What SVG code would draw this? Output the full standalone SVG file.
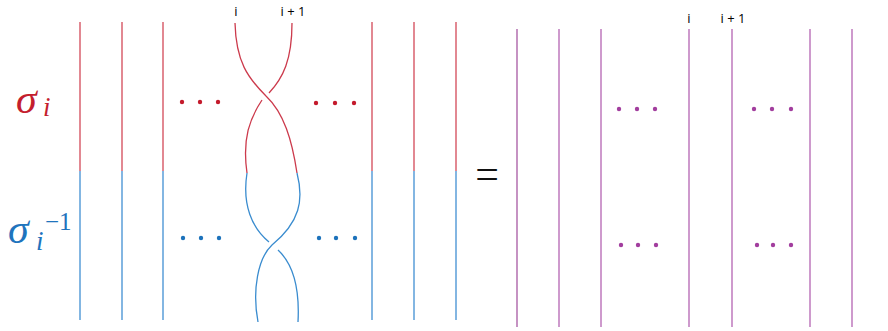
<svg xmlns="http://www.w3.org/2000/svg" width="888" height="331" viewBox="0 0 888 331">
<style>
.r{stroke:#d9606e;stroke-width:1.5;fill:none}
.b{stroke:#5a9ed8;stroke-width:1.5;fill:none}
.rs{stroke:#cc3a4c;stroke-width:1.3;fill:none}
.bs{stroke:#3a8ccf;stroke-width:1.3;fill:none}
.p{stroke:#c98fc8;stroke-width:1.8;fill:none}
.rd{fill:#c41a2c}
.bd{fill:#1c72bb}
.pd{fill:#a23e9e}
.lbl{font-family:"Open Sans","Liberation Sans",sans-serif;font-size:13px;fill:#000}
.m{font-family:"Liberation Serif","DejaVu Serif",serif;font-style:italic}
</style>
<rect width="888" height="331" fill="#fff"/>
<g id="labels">
<text class="m" x="16" y="113" font-size="42" fill="#c41e2e">σ<tspan x="43" y="116" font-size="27">i</tspan></text>
<text class="m" x="8" y="243" font-size="42" fill="#1f74bd">σ<tspan x="36" y="250" font-size="27">i</tspan></text>
<text x="45" y="230" font-size="25" fill="#1f74bd" font-family="Liberation Serif,serif">−1</text>
<text class="lbl" x="236" y="16" text-anchor="middle">i</text>
<text class="lbl" x="293" y="16" text-anchor="middle">i + 1</text>
<text class="lbl" x="689" y="23" text-anchor="middle">i</text>
<text class="lbl" x="733" y="23" text-anchor="middle">i + 1</text>
<text x="487" y="188" font-size="42" text-anchor="middle" fill="#111" font-family="Liberation Serif,serif">=</text>
</g>
<g id="left-strands">
<line class="r" x1="80" y1="22" x2="80" y2="171"/><line class="b" x1="80" y1="171" x2="80" y2="320"/>
<line class="r" x1="122" y1="22" x2="122" y2="171"/><line class="b" x1="122" y1="171" x2="122" y2="320"/>
<line class="r" x1="163" y1="22" x2="163" y2="171"/><line class="b" x1="163" y1="171" x2="163" y2="320"/>
<line class="r" x1="372" y1="22" x2="372" y2="171"/><line class="b" x1="372" y1="171" x2="372" y2="320"/>
<line class="r" x1="414" y1="22" x2="414" y2="171"/><line class="b" x1="414" y1="171" x2="414" y2="320"/>
<line class="r" x1="456" y1="22" x2="456" y2="171"/><line class="b" x1="456" y1="171" x2="456" y2="320"/>
</g>
<g id="braid">
<path class="rs" d="M235,23 C236,62 248,78 266,96 C284,113 292,140 297,173"/>
<path class="rs" d="M292,23 C292,60 283,78 269,93"/>
<path class="rs" d="M262,100 C250,118 242,138 247,173"/>
<path class="bs" d="M297,173 C304,200 300,222 272,245 C258,258 252,290 258,322"/>
<path class="bs" d="M247,173 C242,205 252,228 269,242"/>
<path class="bs" d="M278,250 C292,263 300,285 298,322"/>
</g>
<g id="dots">
<circle class="rd" cx="182" cy="102" r="2.2"/><circle class="rd" cx="200" cy="102" r="2.2"/><circle class="rd" cx="218" cy="102" r="2.2"/>
<circle class="rd" cx="316" cy="103" r="2.2"/><circle class="rd" cx="335" cy="103" r="2.2"/><circle class="rd" cx="354" cy="103" r="2.2"/>
<circle class="bd" cx="183" cy="238" r="2.2"/><circle class="bd" cx="201" cy="238" r="2.2"/><circle class="bd" cx="219" cy="238" r="2.2"/>
<circle class="bd" cx="319" cy="238" r="2.2"/><circle class="bd" cx="336" cy="238" r="2.2"/><circle class="bd" cx="355" cy="238" r="2.2"/>
<circle class="pd" cx="619" cy="109" r="2.2"/><circle class="pd" cx="637" cy="109" r="2.2"/><circle class="pd" cx="655" cy="109" r="2.2"/>
<circle class="pd" cx="754" cy="109" r="2.2"/><circle class="pd" cx="772" cy="109" r="2.2"/><circle class="pd" cx="791" cy="109" r="2.2"/>
<circle class="pd" cx="621" cy="245" r="2.2"/><circle class="pd" cx="638" cy="245" r="2.2"/><circle class="pd" cx="656" cy="245" r="2.2"/>
<circle class="pd" cx="757" cy="245" r="2.2"/><circle class="pd" cx="773" cy="245" r="2.2"/><circle class="pd" cx="791" cy="245" r="2.2"/>
</g>
<g id="right-strands">
<line x1="517" y1="29" x2="517" y2="327" stroke="#963a92" stroke-width="1.1"/>
<line class="p" x1="559" y1="29" x2="559" y2="327"/>
<line class="p" x1="601" y1="29" x2="601" y2="327"/>
<line class="p" x1="689" y1="29" x2="689" y2="327"/>
<line class="p" x1="732" y1="29" x2="732" y2="327" stroke="#b870b6"/>
<line class="p" x1="810" y1="29" x2="810" y2="327"/>
<line class="p" x1="852" y1="29" x2="852" y2="327" stroke="#b870b6"/>
</g>
</svg>
